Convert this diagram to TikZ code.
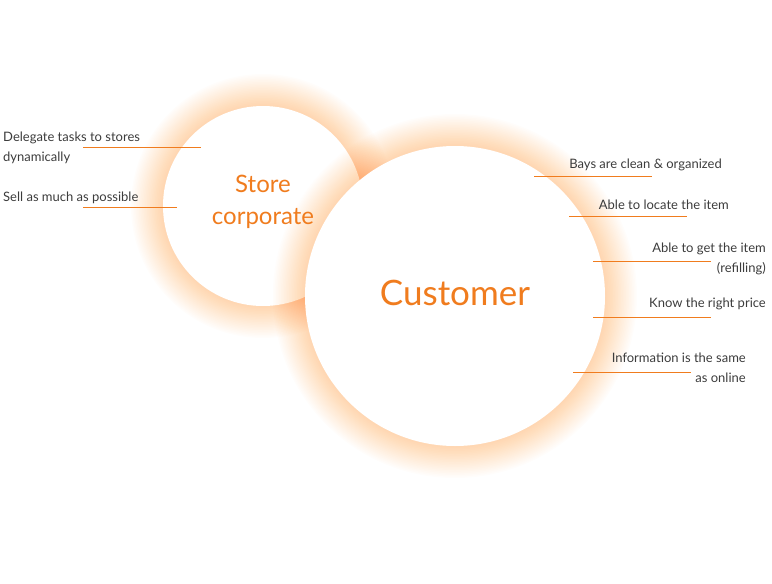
\documentclass[tikz,border=0pt]{standalone}
\usepackage{fontspec}
\setmainfont{Lato}
\usepackage{tikz}
\usetikzlibrary{positioning}
\definecolor{glow}{HTML}{F07C1E}
\definecolor{labelgray}{HTML}{3C3C3C}
\tikzset{
    leader/.style={draw=glow, line width=0.8pt},
    item/.style={text=labelgray, font=\fontsize{13}{20}\selectfont, inner sep=0pt, align=#1},
    item/.default=left,
    bubble/.style={fill=white, draw=none},
    halo/.style={fill=glow!1.6!white, draw=none, blend mode=multiply},
}

\begin{document}
\begin{tikzpicture}[x=1pt, y=-1pt]
\useasboundingbox (0,0) rectangle (772,584);

%glow and store circle
\coordinate (store) at (263,206);
\coordinate (cust) at (455,296);
\foreach \i in {1,...,20}
    \fill[halo] (store) circle ({100+\i*1.6});
\fill[bubble] (store) circle (100);

%glow and customer circle
\foreach \i in {1,...,20}
    \fill[halo] (cust) circle ({150+\i*1.6});
\fill[bubble] (cust) circle (150);

\node[text=glow, font=\fontsize{24}{32}\selectfont, align=center] (storetxt) at (263,202) {Store\\corporate};
\node[text=glow, font=\fontsize{35}{40}\selectfont] (custtxt) at (455,293) {Customer};

%left side
\node[item, anchor=base west] (delegate) at (3,161.5) {Delegate tasks to stores\\dynamically};
\node[item, anchor=base west] (sell) at (3,201) {Sell as much as possible};
\coordinate (d1) at (83,147);
\coordinate (s1) at (83,207);
\draw[leader] (d1) -- ++(118,0);
\draw[leader] (s1) -- ++(94,0);

%right side
\node[item=right, anchor=base east] (bays) at (722,168) {Bays are clean \& organized};
\node[item=right, anchor=base east] (locate) at (729,209) {Able to locate the item};
\node[item=right, anchor=base east] (refill) at (766,272) {Able to get the item\\(refilling)};
\node[item=right, anchor=base east] (price) at (766,307) {Know the right price};
\node[item=right, anchor=base east] (online) at (746,382) {Information is the same\\as online};

\coordinate (b1) at (534,176);
\coordinate (l1) at (569,216.5);
\coordinate (r1) at (593,261);
\coordinate (p1) at (593,317);
\coordinate (o1) at (573,372);
\draw[leader] (b1) -- ++(118,0);
\draw[leader] (l1) -- ++(118,0);
\draw[leader] (r1) -- ++(118,0);
\draw[leader] (p1) -- ++(118,0);
\draw[leader] (o1) -- ++(118,0);
\end{tikzpicture}
\end{document}
